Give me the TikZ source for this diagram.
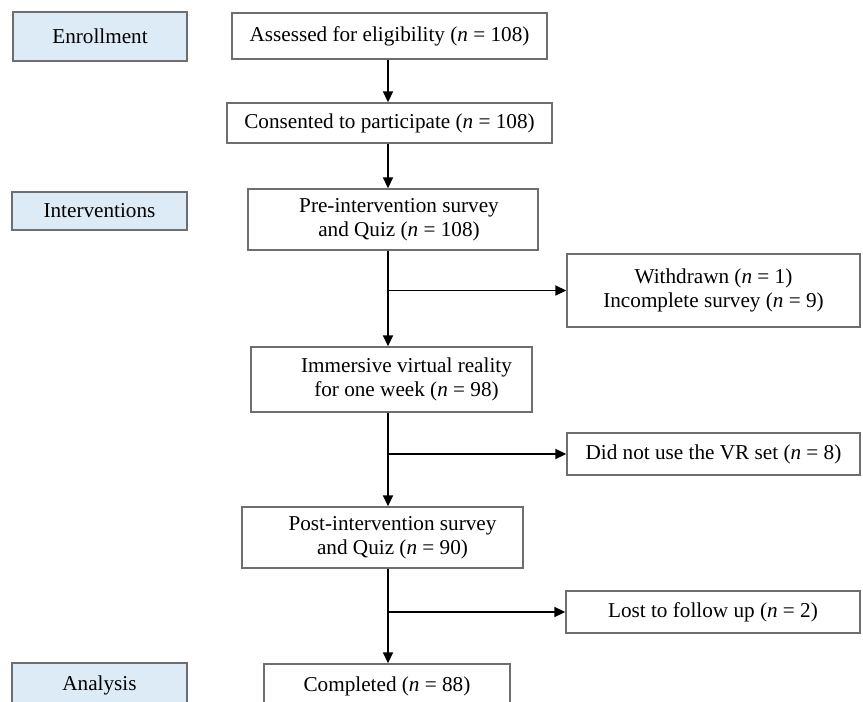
\documentclass[tikz,border=0pt]{standalone}
\usepackage{fontspec}
\setmainfont{Liberation Serif}
\usetikzlibrary{arrows.meta}
\usepackage{xcolor}
\definecolor{phaseblue}{HTML}{DDEBF7}
\definecolor{boxgray}{HTML}{6E6E6E}

\tikzset{
    stagebox/.style={draw=boxgray, line width=1.4pt, rectangle, inner sep=0pt, align=center,
        font=\fontsize{21.2}{24.5}\selectfont},
    phasebox/.style={stagebox, fill=phaseblue},
    flow/.style={line width=1.8pt, -{Triangle[length=11pt,width=10pt]}}
}

\begin{document}
\begin{tikzpicture}[x=1pt, y=-1pt]
        \clip (0,0) rectangle (863,702);
        \fill[white] (0,0) rectangle (863,702);

        % Phases
        \node[phasebox, minimum width=174pt, minimum height=49pt] (enroll) at (100,36.5) {Enrollment};
        \node[phasebox, minimum width=175pt, minimum height=38pt] (interv) at (99.5,211) {Interventions};
        \node[phasebox, minimum width=175pt, minimum height=44pt] (analysis) at (99.5,685) {Analysis};

        % Main column
        \node[stagebox, minimum width=315pt, minimum height=46pt] (assessed) at (389.5,36) {Assessed for eligibility (\textit{n} = 108)};
        \node[stagebox, minimum width=325pt, minimum height=40pt] (consented) at (389.5,123) {Consented to participate (\textit{n} = 108)};
        \node[stagebox, minimum width=290pt, minimum height=61pt] (pre) at (393,219.5) {\hspace*{12pt}Pre-intervention survey\\ \hspace*{12pt}and Quiz (\textit{n} = 108)};
        \node[stagebox, minimum width=281pt, minimum height=65pt] (immersive) at (391.5,379.5) {\hspace*{30pt}Immersive virtual reality\\ \hspace*{30pt}for one week (\textit{n} = 98)};
        \node[stagebox, minimum width=281pt, minimum height=61pt] (post) at (382.5,537.5) {\hspace*{20pt}Post-intervention survey\\ \hspace*{20pt}and Quiz (\textit{n} = 90)};
        \node[stagebox, minimum width=246pt, minimum height=44pt] (completed) at (387,686) {Completed (\textit{n} = 88)};

        % Exclusions
        \node[stagebox, minimum width=293pt, minimum height=73pt] (withdrawn) at (713.5,290.5) {Withdrawn (\textit{n} = 1)\\ Incomplete survey (\textit{n} = 9)};
        \node[stagebox, minimum width=293pt, minimum height=42pt] (didnot) at (713.5,454) {Did not use the VR set (\textit{n} = 8)};
        \node[stagebox, minimum width=294pt, minimum height=42pt] (lost) at (713,612) {Lost to follow up (\textit{n} = 2)};

        % Arrows
        \coordinate (trunk) at (388,0);
        \draw[flow] (assessed.south -| trunk) -- (consented.north -| trunk);
        \draw[flow] (consented.south -| trunk) -- (pre.north -| trunk);
        \draw[flow] (pre.south -| trunk) -- (immersive.north -| trunk);
        \draw[flow] (immersive.south -| trunk) -- (post.north -| trunk);
        \draw[flow] (post.south -| trunk) -- (completed.north -| trunk);
        \draw[flow] (withdrawn.west -| trunk) -- (withdrawn.west);
        \draw[flow] (didnot.west -| trunk) -- (didnot.west);
        \draw[flow] (lost.west -| trunk) -- (lost.west);
    \end{tikzpicture}
\end{document}
